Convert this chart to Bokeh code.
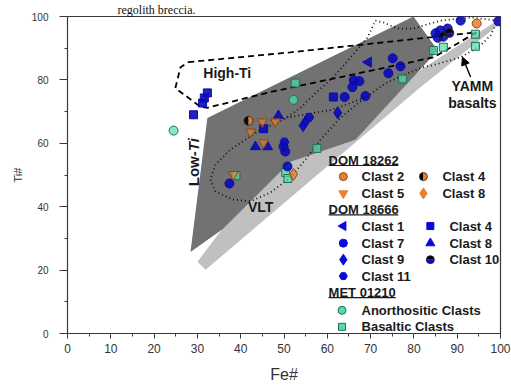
import numpy as np
from bokeh.plotting import figure
from bokeh.models import Range1d, FixedTicker, Arrow, NormalHead, Title
from bokeh.core.properties import value
from bokeh.embed import file_html
from bokeh.resources import INLINE

# ---------------- data (Fe#, Ti#) ----------------
x_ticks = [0, 10, 20, 30, 40, 50, 60, 70, 80, 90, 100]
x_minor = [5, 15, 25, 35, 45, 55, 65, 75, 85, 95]
y_ticks = [0, 20, 40, 60, 80, 100]
y_minor = [10, 30, 50, 70, 90]

# fields
vlt_fe = [30.0, 31.9, 81.5, 100.0, 100.0, 81.5, 51.5, 43.9]
vlt_ti = [22.6, 20.1, 77.7, 97.8, 99.4, 83.1, 54.9, 47.6]
lowti_fe = [28.4, 32.3, 79.9, 85.5, 66.5, 51.5, 35.8]
lowti_ti = [25.7, 68.0, 100.0, 89.3, 61.1, 54.2, 32.9]
highti_fe = [27.9, 51.5, 81.5, 94.5, 84.5, 46.9, 32.3, 30.7, 27.7, 24.9, 26.1, 27.9]
highti_ti = [85.6, 88.7, 93.1, 95.0, 87.1, 76.2, 71.2, 71.5, 74.6, 77.4, 84.0, 85.6]
dot1_fe = [99.3, 93.1, 86.1, 79.9, 76.2, 73.0, 71.1, 69.3, 65.4, 61.4, 56.8, 53.8, 49.9,
           44.6, 37.6, 34.2, 33.0, 34.2, 38.1, 42.3, 46.9, 51.5, 55.0, 58.4, 63.0, 66.1,
           69.3, 73.9, 81.5, 86.1, 90.8, 95.4, 97.7, 99.3]
dot1_ti = [98.7, 99.7, 98.7, 96.2, 96.2, 98.1, 98.7, 93.4, 87.1, 80.9, 75.2, 71.2, 67.4,
           64.3, 58.0, 53.3, 48.6, 44.8, 42.3, 41.7, 44.5, 49.2, 54.9, 61.1, 68.0, 71.5,
           74.9, 79.3, 83.7, 85.3, 87.1, 90.9, 94.0, 98.7]
dot2_fe = [46.9, 51.5, 60.7, 65.4, 69.3]
dot2_ti = [67.4, 68.3, 70.5, 72.7, 74.9]

# DOM 18262
d62_c2_fe, d62_c2_ti = [94.5], [97.8]
d62_c4_fe, d62_c4_ti = [41.8], [67.1]
d62_c5_fe = [45.0, 48.0, 42.3, 45.3, 38.3]
d62_c5_ti = [66.8, 66.8, 63.6, 60.2, 50.2]
d62_c8_fe, d62_c8_ti = [52.2], [50.2]

# DOM 18666
d66_c1_fe, d66_c1_ti = [69.5], [85.6]
d66_c4_fe = [32.3, 31.6, 31.2, 29.1, 45.3, 61.4]
d66_c4_ti = [75.9, 74.3, 72.7, 69.0, 64.6, 74.6]
d66_c7_fe = [37.4, 49.9, 50.3, 50.8, 64.0, 68.8, 66.1, 67.4, 65.8, 75.1, 76.9, 74.1,
             85.0, 86.1, 87.8, 90.8, 99.5, 85.5]
d66_c7_ti = [47.3, 58.9, 57.4, 52.7, 74.6, 74.9, 79.9, 79.6, 77.7, 86.8, 84.3, 82.1,
             94.7, 95.6, 96.2, 98.7, 98.5, 93.3]
d66_c8_fe = [48.7, 43.4, 46.2]
d66_c8_ti = [68.7, 58.9, 58.9]
d66_c9_fe = [62.4, 55.0, 54.4]
d66_c9_ti = [69.6, 66.8, 65.6]
d66_c10_fe = [86.8, 88.2]
d66_c10_ti = [93.6, 94.8]
d66_c11_fe = [55.8, 50.1]
d66_c11_ti = [68.2, 60.4]

# MET 01210
met_an_fe = [24.5, 52.2]
met_an_ti = [64.0, 73.7]
met_ba_fe = [52.6, 57.6, 38.9, 50.4, 50.9, 77.4, 84.5, 86.8, 94.2, 94.2]
met_ba_ti = [79.0, 58.4, 49.8, 50.8, 48.9, 80.3, 89.3, 90.3, 94.4, 90.6]

# ---------------- styles ----------------
FONT = "Liberation Sans"
ORANGE = "#E8802E"
ORANGE_L = "#8A4A12"
BLUE = "#0A0AD8"
BLUE_D = "#0A0AB4"
TEAL = "#4FDDAA"
TEAL_L = "#1F6F55"
DARK = "#727272"
LIGHT = "#C0C0C0"
MS = 9

p = figure(width=511, height=385, x_range=Range1d(0, 100), y_range=Range1d(0, 100),
           output_backend="svg", toolbar_location=None,
           min_border_left=67, min_border_right=11, min_border_top=0, min_border_bottom=50)
# caption fragment of the surrounding document (top-left)
p.title = Title(text="regolith breccia.", text_font="Liberation Serif", text_font_size="12px",
                text_font_style="normal", text_color="#111111", align="left", offset=50,
                standoff=0)
p.xgrid.visible = False
p.ygrid.visible = False
p.outline_line_color = "#3a3a3a"
p.outline_line_width = 1.2
p.background_fill_color = "white"

xa = p.xaxis[0]
xa.ticker = FixedTicker(ticks=x_ticks, minor_ticks=x_minor)
xa.axis_label = "Fe#"
ya = p.yaxis[0]
ya.ticker = FixedTicker(ticks=y_ticks, minor_ticks=y_minor)
ya.axis_label = "Ti#"
for ax in (xa, ya):
    ax.axis_line_color = "#3a3a3a"
    ax.major_tick_line_color = "#3a3a3a"
    ax.minor_tick_line_color = "#3a3a3a"
    ax.major_tick_in = 0
    ax.minor_tick_in = 0
    ax.minor_tick_out = 3
    ax.major_label_text_font = FONT
    ax.axis_label_text_font = FONT
    ax.axis_label_text_font_style = "normal"
    ax.axis_label_text_color = "#333333"
    ax.major_label_text_color = "#333333"
xa.major_tick_out = 5
xa.major_label_text_font_size = "12px"
xa.major_label_standoff = 5
xa.axis_label_text_font_size = "16px"
xa.axis_label_standoff = 10
ya.major_tick_out = 8
ya.major_label_text_font_size = "10px"
ya.major_label_standoff = 11
ya.axis_label_text_font_size = "11px"
ya.axis_label_standoff = 5

# fields
p.patch(vlt_fe, vlt_ti, fill_color=LIGHT, line_color=None)
p.patch(lowti_fe, lowti_ti, fill_color=DARK, line_color=None)
p.line(highti_fe, highti_ti, line_color="black", line_width=1.8, line_dash="6 4")
p.line(dot1_fe, dot1_ti, line_color="#111111", line_width=1.8, line_dash="1 3")
p.line(dot2_fe, dot2_ti, line_color="#111111", line_width=1.8, line_dash="1 3")

def half_circle(xs, ys, c_a, c_b, a0, size=MS, alpha=0.9):
    r = size / 2.0
    p.wedge(xs, ys, radius=r, radius_units="screen", start_angle=a0, end_angle=a0 + np.pi,
            fill_color=c_a, line_color=None, fill_alpha=alpha)
    p.wedge(xs, ys, radius=r, radius_units="screen", start_angle=a0 + np.pi, end_angle=a0 + 2 * np.pi,
            fill_color=c_b, line_color=None, fill_alpha=alpha)
    p.scatter(xs, ys, marker="circle", size=size, fill_color=None, line_color="#222222", line_width=0.8)

# data points
A = 0.9
p.scatter(met_an_fe, met_an_ti, marker="circle", size=MS, fill_color=TEAL, line_color=TEAL_L, fill_alpha=0.7)
p.scatter(met_ba_fe, met_ba_ti, marker="square", size=MS - 1, fill_color=TEAL, line_color=TEAL_L, fill_alpha=0.7)
p.scatter(d66_c4_fe, d66_c4_ti, marker="square", size=MS - 1, fill_color=BLUE_D, line_color=BLUE_D, fill_alpha=A)
p.scatter(d66_c7_fe, d66_c7_ti, marker="circle", size=MS, fill_color=BLUE_D, line_color=BLUE_D, fill_alpha=A)
p.scatter(d66_c8_fe, d66_c8_ti, marker="triangle", size=MS + 1, fill_color=BLUE_D, line_color=BLUE_D, fill_alpha=A)
p.scatter(d66_c9_fe, d66_c9_ti, marker="diamond", size=MS + 3, fill_color=BLUE_D, line_color=BLUE_D, fill_alpha=A)
p.scatter(d66_c11_fe, d66_c11_ti, marker="hex", size=MS, fill_color=BLUE_D, line_color=BLUE_D, fill_alpha=A)
p.scatter(d66_c1_fe, d66_c1_ti, marker="triangle", angle=np.pi / 2, size=MS + 1, fill_color=BLUE_D,
          line_color=BLUE_D, fill_alpha=A)
half_circle(d66_c10_fe, d66_c10_ti, "black", BLUE_D, 0.0)
p.scatter(d62_c2_fe, d62_c2_ti, marker="circle", size=MS, fill_color=ORANGE, line_color=ORANGE_L, fill_alpha=0.85)
p.scatter(d62_c5_fe, d62_c5_ti, marker="inverted_triangle", size=MS + 1, fill_color=ORANGE,
          line_color=ORANGE_L, fill_alpha=0.6)
p.scatter(d62_c8_fe, d62_c8_ti, marker="diamond", size=MS + 3, fill_color=ORANGE, line_color=ORANGE_L, fill_alpha=0.75)
half_circle(d62_c4_fe, d62_c4_ti, "black", ORANGE, np.pi / 2)

# field labels
def label(x, y, t, size="14px", style="bold", align="center", angle=0.0):
    p.text(x=[x], y=[y], text=[t], text_font=value(FONT), text_font_size=size,
           text_font_style=style, text_align=align, text_baseline="middle",
           text_color="#1a1a1a", angle=angle)

label(36.9, 82.1, "High-Ti")
label(44.6, 39.8, "VLT")
label(93.5, 78.1, "YAMM")
label(93.5, 72.7, "basalts")
label(29.0, 57.5, "Low-", size="15px", align="right", angle=np.pi / 2)
label(29.0, 57.5, "Ti", size="15px", style="bold italic", align="left", angle=np.pi / 2)
p.add_layout(Arrow(end=NormalHead(size=8, fill_color="black", line_color="black"),
                   x_start=93.1, y_start=80.9, x_end=91.2, y_end=87.2,
                   line_width=1.4, line_color="black"))

# ---------------- legend (layout positions in data units) ----------------
hx = 60.3
headers = ["DOM 18262", "DOM 18666", "MET 01210"]
header_y = [54.6, 39.0, 12.9]
under_x1 = [76.4, 76.4, 75.8]
for h, yy in zip(headers, header_y):
    label(hx, yy, h, size="13px", align="left")
p.segment(x0=[hx] * 3, y0=[y - 1.6 for y in header_y], x1=under_x1, y1=[y - 1.6 for y in header_y],
          line_color="#1a1a1a", line_width=1.2)

m1, t1 = 63.7, 67.9
m2a, t2a = 82.2, 86.6
m2b, t2b = 83.8, 88.2
r = [49.5, 44.2, 33.9, 28.5, 23.3, 18.1, 7.3, 2.1]
LS = 8
p.scatter([m1], [r[0]], marker="circle", size=LS, fill_color=ORANGE, line_color=ORANGE_L)
label(t1, r[0], "Clast 2", size="13px", align="left")
half_circle([m2a], [r[0]], "black", ORANGE, np.pi / 2, size=LS, alpha=1.0)
label(t2a, r[0], "Clast 4", size="13px", align="left")
p.scatter([m1], [r[1]], marker="inverted_triangle", size=LS + 1, fill_color=ORANGE, line_color=ORANGE)
label(t1, r[1], "Clast 5", size="13px", align="left")
p.scatter([m2a], [r[1]], marker="diamond", size=LS + 3, fill_color=ORANGE, line_color=ORANGE)
label(t2a, r[1], "Clast 8", size="13px", align="left")

p.scatter([m1], [r[2]], marker="triangle", angle=np.pi / 2, size=LS + 1, fill_color=BLUE, line_color=BLUE)
label(t1, r[2], "Clast 1", size="13px", align="left")
p.scatter([m2b], [r[2]], marker="square", size=LS - 1, fill_color=BLUE, line_color=BLUE)
label(t2b, r[2], "Clast 4", size="13px", align="left")
p.scatter([m1], [r[3]], marker="circle", size=LS, fill_color=BLUE, line_color=BLUE)
label(t1, r[3], "Clast 7", size="13px", align="left")
p.scatter([m2b], [r[3]], marker="triangle", size=LS + 1, fill_color=BLUE, line_color=BLUE)
label(t2b, r[3], "Clast 8", size="13px", align="left")
p.scatter([m1], [r[4]], marker="diamond", size=LS + 3, fill_color=BLUE, line_color=BLUE)
label(t1, r[4], "Clast 9", size="13px", align="left")
half_circle([m2b], [r[4]], "black", BLUE, 0.0, size=LS, alpha=1.0)
label(t2b, r[4], "Clast 10", size="13px", align="left")
p.scatter([m1], [r[5]], marker="hex", size=LS, fill_color=BLUE, line_color=BLUE)
label(t1, r[5], "Clast 11", size="13px", align="left")

p.scatter([m1 - 0.3], [r[6]], marker="circle", size=LS, fill_color=TEAL, line_color=TEAL_L)
label(t1, r[6], "Anorthositic Clasts", size="13px", align="left")
p.scatter([m1 - 0.3], [r[7]], marker="square", size=LS - 1, fill_color=TEAL, line_color=TEAL_L)
label(t1, r[7], "Basaltic Clasts", size="13px", align="left")

open("out.html", "w").write(file_html(p, INLINE))
